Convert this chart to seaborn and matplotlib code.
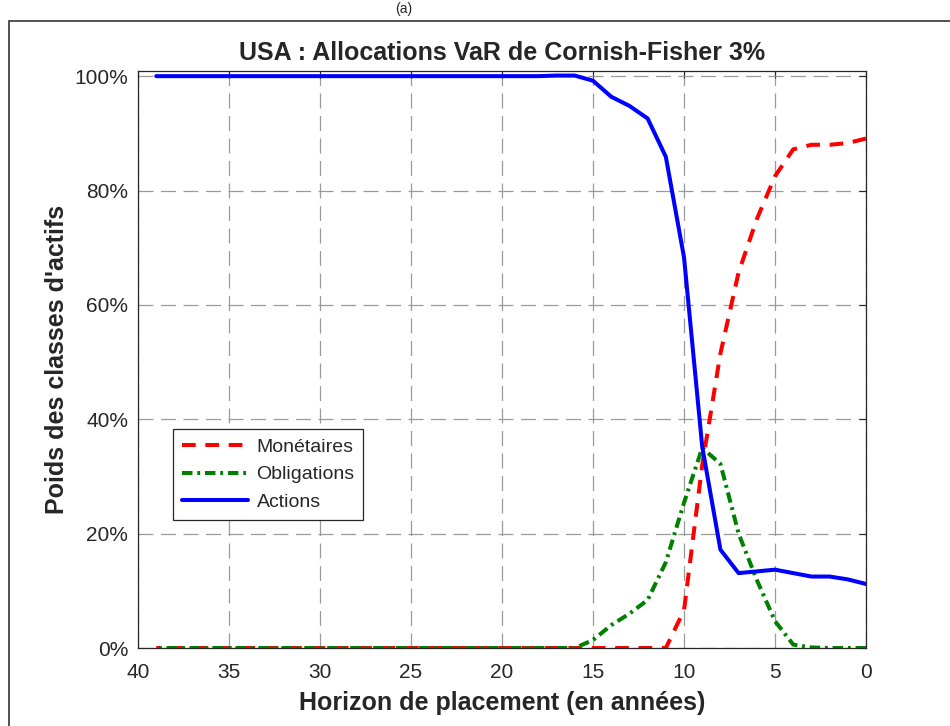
import matplotlib
matplotlib.use("Agg")
import matplotlib.pyplot as plt
from matplotlib.patches import Rectangle
from matplotlib.ticker import PercentFormatter
import seaborn as sns
import pandas as pd

# horizon (years remaining) and weights
horizon = list(range(39, -1, -1))

actions = [1.0] * 22 + [1.001, 1.001, 0.992, 0.964, 0.948, 0.926, 0.859, 0.683,
                        0.352, 0.172, 0.131, 0.134, 0.137, 0.131, 0.125, 0.125,
                        0.120, 0.112]
obligations = [0.0] * 24 + [0.014, 0.040, 0.060, 0.084, 0.150, 0.254, 0.350,
                            0.322, 0.200, 0.119, 0.047, 0.006, 0.001, 0.0,
                            0.0, 0.0]
monetaires = [0.0] * 29 + [0.066, 0.320, 0.515, 0.657, 0.750, 0.825, 0.872,
                           0.880, 0.880, 0.883, 0.891]

df = pd.DataFrame({"horizon": horizon, "Monétaires": monetaires,
                   "Obligations": obligations, "Actions": actions})

sns.set_style("white", {"xtick.direction": "in", "ytick.direction": "in"})
plt.rcParams["font.family"] = ["Liberation Sans", "DejaVu Sans"]

fig = plt.figure(figsize=(9.5, 7.26), dpi=100)
ax = fig.add_axes([0.1453, 0.1074, 0.7663, 0.7948])

lw = 2.9
sns.lineplot(data=df, x="horizon", y="Monétaires", ax=ax, color="#ff0000",
             linewidth=lw, linestyle=(0, (3.4, 2.4)), label="Monétaires")
sns.lineplot(data=df, x="horizon", y="Obligations", ax=ax, color="#008000",
             linewidth=lw, linestyle=(0, (2.6, 1.2, 0.7, 1.2)), label="Obligations")
sns.lineplot(data=df, x="horizon", y="Actions", ax=ax, color="#0000ff",
             linewidth=lw, label="Actions")

ax.set_xlim(40, 0)
ax.set_ylim(0, 1.009)
ax.set_xticks(range(40, -1, -5))
ax.set_yticks([0, 0.2, 0.4, 0.6, 0.8, 1.0])
ax.yaxis.set_major_formatter(PercentFormatter(1.0, decimals=0))
ax.grid(True, color="#9a9a9a", linestyle=(0, (12, 6)), linewidth=0.9)
ax.tick_params(labelsize=15, length=5, width=0.8, colors="#262626",
               top=True, right=True)
ax.tick_params(axis="x", pad=10.5)
ax.tick_params(axis="y", pad=7)
for s in ax.spines.values():
    s.set_color("#262626")
    s.set_linewidth(0.9)

ax.set_title("USA : Allocations VaR de Cornish-Fisher 3%", fontsize=18,
             fontweight="bold", pad=8)
ax.set_xlabel("Horizon de placement (en années)", fontsize=18,
              fontweight="bold", labelpad=7)
ax.set_ylabel("Poids des classes d'actifs", fontsize=18, fontweight="bold",
              labelpad=4)

leg = ax.legend(loc="lower left", bbox_to_anchor=(0.048, 0.222),
                borderaxespad=0, fontsize=14, handlelength=3.4,
                handletextpad=0.45, fancybox=False, framealpha=1,
                edgecolor="#262626", labelspacing=0.52, borderpad=0.45)
leg.get_frame().set_linewidth(0.9)

# outer figure frame and panel label above it
fig.add_artist(Rectangle((9 / 950, -0.2), 1.1, 1.2 - 21 / 726,
                         transform=fig.transFigure, fill=False,
                         edgecolor="#333333", linewidth=1.2))
fig.text(0.425, 1 - 2 / 726, "(a)", ha="center", va="top", fontsize=10)

fig.savefig("out.png", dpi=100)
